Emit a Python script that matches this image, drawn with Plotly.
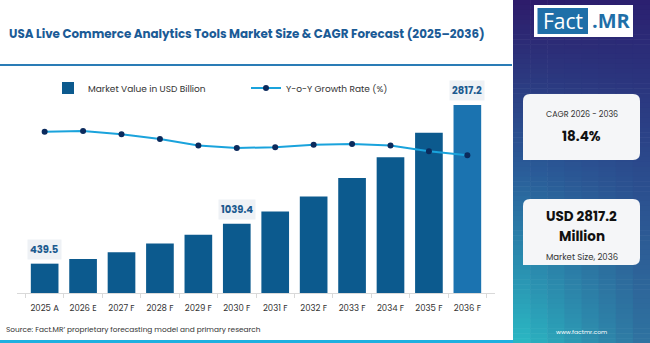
import plotly.graph_objects as go

W, H = 650, 343

categories = ["2025 A", "2026 E", "2027 F", "2028 F", "2029 F", "2030 F",
              "2031 F", "2032 F", "2033 F", "2034 F", "2035 F", "2036 F"]
market_value = [439.5, 510, 612, 740, 873, 1039.4, 1222, 1446, 1723, 2036, 2400, 2817.2]
yoy_growth = [18.9, 19.0, 18.6, 18.0, 17.2, 16.9, 17.0, 17.3, 17.4, 17.2, 16.5, 16.0]
labelled = {0: "439.5", 5: "1039.4", 11: "2817.2"}

bar_colors = ["#0c5a8e"] * 11 + ["#1b73b0"]

def py(p):
    return 1 - p / H

def px(p):
    return p / W

FONT = "Poppins, Inter, 'Open Sans', sans-serif"

fig = go.Figure()

fig.add_trace(go.Bar(
    x=categories, y=market_value, name="Market Value in USD Billion",
    marker=dict(color=bar_colors, line=dict(width=0))))

fig.add_trace(go.Scatter(
    x=categories, y=yoy_growth, name="Y-o-Y Growth Rate (%)", yaxis="y2",
    mode="lines+markers",
    line=dict(color="#1aa3dc", width=2),
    marker=dict(color="#0b2a5c", size=6)))

annotations = []
for i, t in labelled.items():
    annotations.append(dict(
        x=categories[i], y=market_value[i], xref="x", yref="y",
        text="<b>%s</b>" % t, showarrow=False, yanchor="bottom", yshift=4,
        font=dict(size=10, color="#1c5a8f", family=FONT),
        bgcolor="#eef1f5", borderpad=2))

# title
annotations.append(dict(
    x=px(7), y=py(34), xref="paper", yref="paper", xanchor="left", yanchor="middle",
    text="<b>USA Live Commerce Analytics Tools Market Size & CAGR Forecast (2025–2036)</b>",
    showarrow=False, font=dict(size=11.9, color="#1b5b96", family=FONT)))
# source
annotations.append(dict(
    x=px(4), y=py(329), xref="paper", yref="paper", xanchor="left", yanchor="middle",
    text="Source: Fact.MR’ proprietary forecasting model and primary research",
    showarrow=False, font=dict(size=7.4, color="#333333", family=FONT)))

# logo texts
annotations.append(dict(
    x=px(563), y=py(21), xref="paper", yref="paper", xanchor="center", yanchor="middle",
    text="Fact", showarrow=False, font=dict(size=21, color="white", family="'Open Sans', sans-serif")))
annotations.append(dict(
    x=px(611), y=py(21), xref="paper", yref="paper", xanchor="center", yanchor="middle",
    text="<b>.MR</b>", showarrow=False, font=dict(size=20, color="#1f6fa8", family="'Open Sans', sans-serif")))

# card texts
cx = px(581.5)
annotations += [
    dict(x=cx, y=py(114), text="CAGR 2026 - 2036", font=dict(size=8, color="#333333", family=FONT)),
    dict(x=cx, y=py(136), text="<b>18.4%</b>", font=dict(size=13.5, color="#111111", family=FONT)),
    dict(x=cx, y=py(216), text="<b>USD 2817.2</b>", font=dict(size=13.5, color="#111111", family=FONT)),
    dict(x=cx, y=py(236), text="<b>Million</b>", font=dict(size=13.5, color="#111111", family=FONT)),
    dict(x=cx, y=py(257), text="Market Size, 2036", font=dict(size=8.5, color="#333333", family=FONT)),
    dict(x=cx, y=py(332), text="www.factmr.com", font=dict(size=6, color="#ffffff", family=FONT)),
]
for a in annotations[-6:]:
    a.update(xref="paper", yref="paper", xanchor="center", yanchor="middle", showarrow=False)

def card_path(x0, y0, x1, y1, r):
    X0, X1 = px(x0), px(x1)
    Y0, Y1 = py(y0), py(y1)  # Y0 top, Y1 bottom
    rx, ry = r / W, r / H
    return (f"M {X0},{Y1} L {X0},{Y0-ry} Q {X0},{Y0} {X0+rx},{Y0} "
            f"L {X1-rx},{Y0} Q {X1},{Y0} {X1},{Y0-ry} "
            f"L {X1},{Y1+ry} Q {X1},{Y1} {X1-rx},{Y1} Z")

# gradient panel built from small rectangles (bilinear colour blend)
def hex2rgb(h):
    h = h.lstrip("#")
    return [int(h[i:i + 2], 16) for i in (0, 2, 4)]

def mix(c1, c2, t):
    return [c1[k] + (c2[k] - c1[k]) * t for k in range(3)]

TL, TR = hex2rgb("#2d1b6a"), hex2rgb("#2b2070")
ML, MR = hex2rgb("#2a5e9a"), hex2rgb("#2b4a8c")
BL, BR = hex2rgb("#2abcc5"), hex2rgb("#2f6e9e")

def panel_color(u, v):
    if v < 0.5:
        t = v / 0.5
        left, right = mix(TL, ML, t), mix(TR, MR, t)
    else:
        t = (v - 0.5) / 0.5
        left, right = mix(ML, BL, t), mix(MR, BR, t)
    c = mix(left, right, u)
    return "rgb(%d,%d,%d)" % tuple(int(round(x)) for x in c)

shapes = []
PX0, PX1 = 513, 650
NC, NR = 8, 70
cw = (PX1 - PX0) / NC
rh = H / NR
for r in range(NR):
    for c in range(NC):
        x0 = PX0 + c * cw
        y0 = r * rh
        shapes.append(dict(
            type="rect", xref="paper", yref="paper",
            x0=px(x0), x1=px(min(x0 + cw + 0.6, PX1 + 1)),
            y0=py(min(y0 + rh + 0.6, H + 1)), y1=py(y0),
            fillcolor=panel_color((c + 0.5) / NC, (r + 0.5) / NR),
            line=dict(width=0), layer="below"))

shapes += [
    dict(type="rect", xref="paper", yref="paper", x0=0, x1=px(512), y0=py(66), y1=py(64),
         fillcolor="#2a7cb6", line=dict(width=0), layer="above"),
    dict(type="rect", xref="paper", yref="paper", x0=0, x1=px(513), y0=0, y1=py(340),
         fillcolor="#1fb0e0", line=dict(width=0), layer="above"),
    dict(type="rect", xref="paper", yref="paper", x0=px(534), x1=px(633), y0=py(37), y1=py(5),
         fillcolor="white", line=dict(width=0), layer="above"),
    dict(type="rect", xref="paper", yref="paper", x0=px(537.5), x1=px(588), y0=py(34), y1=py(8),
         fillcolor="#1f6fa8", line=dict(width=0), layer="above"),
    dict(type="path", xref="paper", yref="paper", path=card_path(523, 94, 640, 160, 7),
         fillcolor="#f5f6f8", line=dict(width=0), layer="above"),
    dict(type="path", xref="paper", yref="paper", path=card_path(523, 199, 640, 265, 7),
         fillcolor="#f5f6f8", line=dict(width=0), layer="above"),
]

fig.update_layout(
    width=W, height=H, margin=dict(l=0, r=0, t=0, b=0),
    paper_bgcolor="white", plot_bgcolor="rgba(0,0,0,0)",
    font=dict(family=FONT, color="#333333"),
    bargap=0.28,
    showlegend=True,
    legend=dict(orientation="h", x=px(48), y=py(88), xanchor="left", yanchor="middle",
                font=dict(size=9, color="#333333", family=FONT),
                entrywidth=153, entrywidthmode="pixels", bgcolor="rgba(0,0,0,0)",
                traceorder="normal"),
    xaxis=dict(domain=[px(17), px(495)], showline=True, linecolor="#d9d9d9", linewidth=1,
               ticks="outside", tickson="boundaries", ticklen=4, tickcolor="#d9d9d9",
               tickangle=0, ticklabelstandoff=7,
               tickfont=dict(size=8.5, color="#333333", family=FONT),
               showgrid=False, zeroline=False, fixedrange=True),
    yaxis=dict(domain=[py(293), py(90)], range=[0, 3042], visible=False, showgrid=False),
    yaxis2=dict(domain=[py(293), py(90)], range=[-1, 24.06], overlaying="y", visible=False,
                showgrid=False),
    annotations=annotations,
    shapes=shapes,
)

fig.write_html("out.html")
